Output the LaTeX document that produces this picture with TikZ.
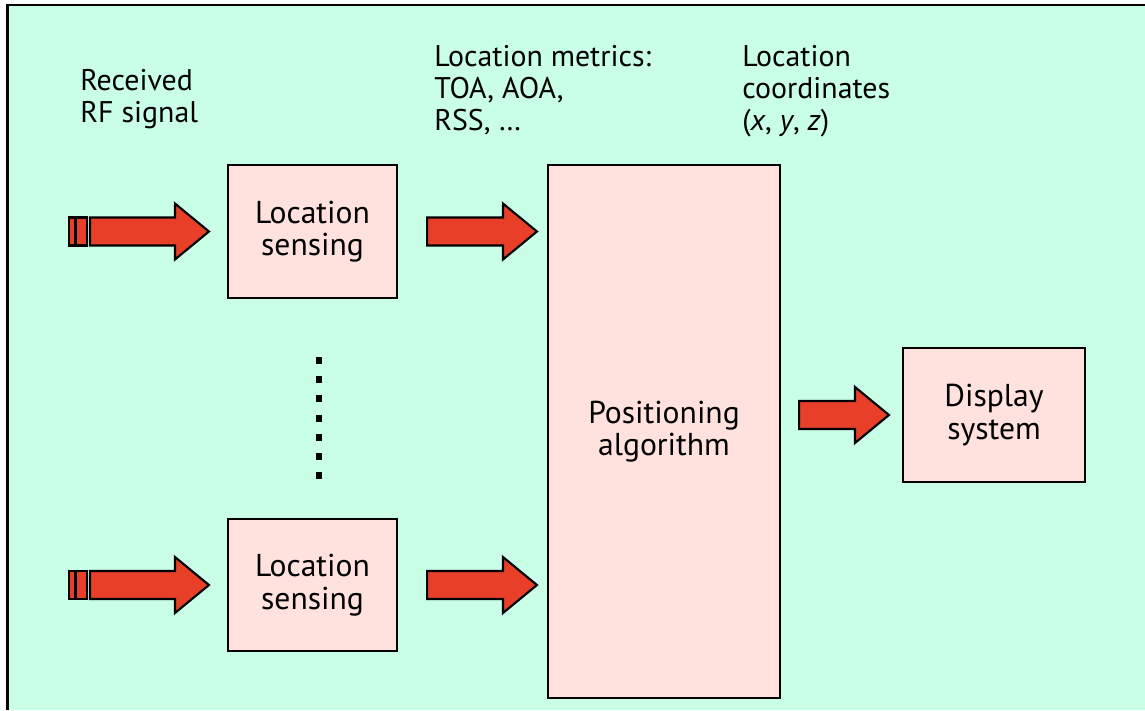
\documentclass[tikz,border=0pt]{standalone}
\usepackage{fontspec}
\setmainfont{PT Sans}
\usetikzlibrary{calc}

\definecolor{mintbg}{RGB}{200,255,230}
\definecolor{boxpink}{RGB}{255,226,222}
\definecolor{arrowred}{RGB}{232,64,40}

\tikzset{
  block/.style={draw,line width=1.2pt,fill=boxpink,align=center,
    font=\fontsize{18}{18.5}\selectfont},
  caption/.style={anchor=north west,align=left,inner sep=0pt,
    font=\fontsize{17}{18.3}\selectfont},
  fatarrow/.style={draw,line width=1.2pt,fill=arrowred,line join=miter},
}

% block arrow from #1 to #2 (same height)
\newcommand{\fatarrow}[2]{%
  \draw[fatarrow] let \p1=#1, \p2=#2 in
    (\x1,\y1+0.28cm) -- (\x2-0.68cm,\y1+0.28cm) -- (\x2-0.68cm,\y1+0.56cm)
    -- (\x2,\y1) -- (\x2-0.68cm,\y1-0.56cm) -- (\x2-0.68cm,\y1-0.28cm)
    -- (\x1,\y1-0.28cm) -- cycle;}

\begin{document}
\begin{tikzpicture}
\useasboundingbox (0,0) rectangle (22.9,-14.2);
\fill[mintbg] (0.15,-0.1) rectangle (22.9,-14.2);
\draw[line width=1.2pt] (0.15,-14.2) -- (0.15,-0.1) -- (22.9,-0.1);

\node[block,minimum width=3.38cm,minimum height=2.66cm](sense1) at (6.25,-4.63) {Location\\sensing};
\node[block,minimum width=3.38cm,minimum height=2.64cm](sense2) at (6.25,-11.70) {Location\\sensing};
\node[block,minimum width=4.64cm,minimum height=10.66cm](posalg) at (13.28,-8.63) {Positioning\\algorithm};
\node[block,minimum width=3.64cm,minimum height=2.68cm](display) at (19.88,-8.30) {Display\\system};

\node[caption](rxsig) at (1.6,-1.38) {Received\\RF signal};
\node[caption](metrics) at (8.68,-0.90) {Location metrics:\\TOA, AOA,\\RSS, \dots};
\node[caption](coords) at (14.84,-0.90) {Location\\coordinates\\(\textit{x}, \textit{y}, \textit{z})};

\coordinate(in1) at (1.8,-4.63);
\coordinate(in2) at (1.8,-11.70);

% input stubs
\foreach \c in {in1,in2} {
  \draw[fatarrow] ([xshift=-0.42cm,yshift=-0.28cm]\c) rectangle ([xshift=-0.30cm,yshift=0.28cm]\c);
  \draw[fatarrow] ([xshift=-0.28cm,yshift=-0.28cm]\c) rectangle ([xshift=-0.06cm,yshift=0.28cm]\c);
}

\fatarrow{(in1)}{([xshift=-0.36cm]sense1.west)}
\fatarrow{(in2)}{([xshift=-0.36cm]sense2.west)}
\fatarrow{([xshift=0.58cm]sense1.east)}{([xshift=-0.2cm]posalg.west |- sense1.east)}
\fatarrow{([xshift=0.58cm]sense2.east)}{([xshift=-0.2cm]posalg.west |- sense2.east)}
\fatarrow{([xshift=0.36cm]posalg.east |- display.west)}{([xshift=-0.26cm]display.west)}

% dots between the sensing blocks
\foreach \i in {0,...,6}
  \fill ($(sense1.south)+(0.07,-1.16-\i*0.384)$) rectangle +(0.12,-0.14);

\end{tikzpicture}
\end{document}
